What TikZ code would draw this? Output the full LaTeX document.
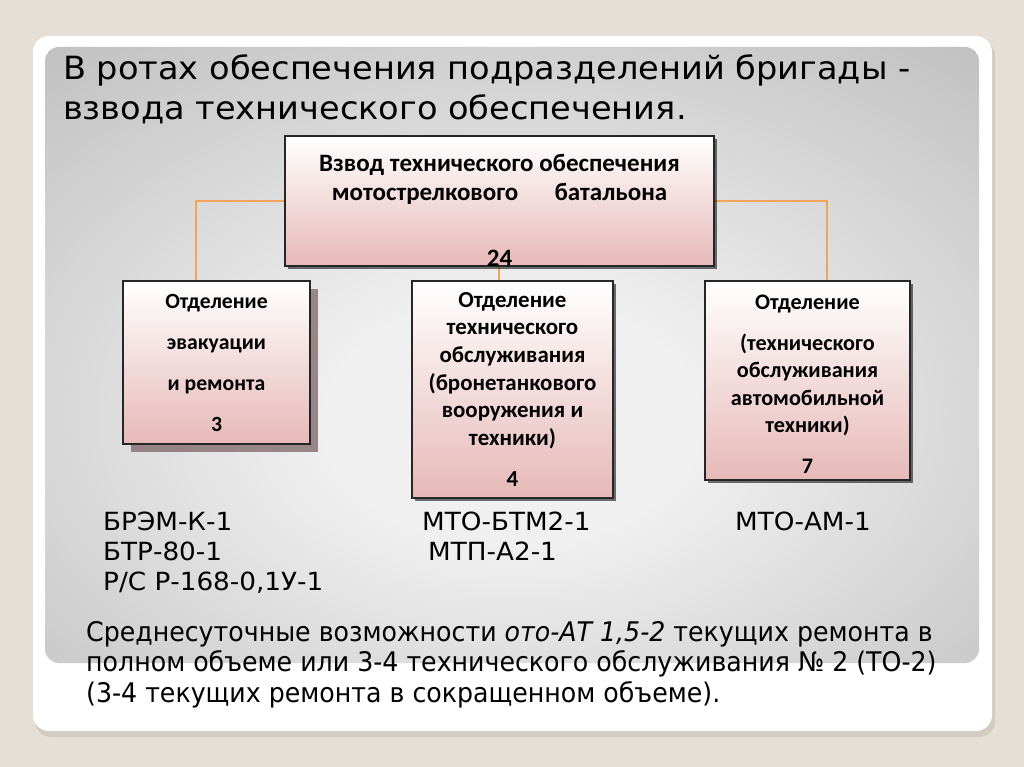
\documentclass[tikz,border=0pt]{standalone}
\usepackage{fontspec}
\setmainfont{DejaVu Sans}
\newfontfamily\titlefont{DejaVu Sans}[FakeStretch=1.05]
\newfontfamily\listfont{DejaVu Sans}[FakeStretch=1.05]
\newfontfamily\boxfont{Carlito}
\newfontfamily\condfont{DejaVu Sans}[FakeStretch=0.935]
\usetikzlibrary{shadows}
\pgfdeclarelayer{backdrop}
\pgfdeclarelayer{links}
\pgfsetlayers{backdrop,links,main}
\definecolor{bgbeige}{HTML}{E5DFD5}
\definecolor{frameshadow}{HTML}{D2CBBF}
\definecolor{panelin}{HTML}{F0F0F0}
\definecolor{panelout}{HTML}{9C9C9C}
\definecolor{pinkbot}{HTML}{E6B9B8}
\definecolor{boxline}{HTML}{262626}
\definecolor{conn}{HTML}{F2A55A}
\definecolor{mauveshadow}{HTML}{7E6466}
\pgfdeclareradialshading{panelshade}{\pgfpoint{0bp}{-6bp}}{color(0bp)=(panelin); color(10bp)=(panelin); color(60bp)=(panelout); color(100bp)=(panelout)}
\tikzset{
  orgbox/.style={draw=boxline, line width=1.3pt, top color=white, bottom color=pinkbot,
    inner sep=0pt, align=center, font=\boxfont\bfseries},
  smallshadow/.style={drop shadow={shadow xshift=3pt, shadow yshift=-3pt, fill=black, opacity=.55}},
  bigshadow/.style={drop shadow={shadow xshift=8pt, shadow yshift=-8pt, fill=mauveshadow, opacity=.75}},
  link/.style={draw=conn, line width=1.2pt},
  titletext/.style={anchor=base west, inner sep=0pt, font=\titlefont\fontsize{32}{40}\selectfont},
  listtext/.style={anchor=base west, inner sep=0pt, font=\listfont\fontsize{25}{30}\selectfont},
  notetext/.style={anchor=base west, inner sep=0pt, font=\condfont\fontsize{27}{31}\selectfont},
}
\begin{document}
\begin{tikzpicture}[x=1pt,y=-1pt]
\useasboundingbox (0,0) rectangle (1024,767);
\begin{pgfonlayer}{backdrop}
\fill[bgbeige] (0,0) rectangle (1024,767);
\fill[frameshadow, rounded corners=16pt] (35,40) rectangle (995,737);
\fill[white, rounded corners=16pt] (33,36) rectangle (992,731);
\shade[shading=panelshade, rounded corners=14pt] (45,47) rectangle (979,663);
\end{pgfonlayer}

\node[titletext] (title1) at (63,80) {В ротах обеспечения подразделений бригады -};
\node[titletext] (title2) at (63,120) {взвода технического обеспечения.};

% boxes
\node[orgbox, smallshadow, minimum width=429pt, minimum height=122pt,
  font=\boxfont\bfseries\fontsize{25}{29}\selectfont] (top) at (499.5,201)
  {\rule{0pt}{35pt}Взвод технического обеспечения\\мотострелкового\quad\ \ батальона\\[37pt]24};
\node[orgbox, bigshadow, minimum width=187pt, minimum height=163pt,
  font=\boxfont\bfseries\fontsize{21.7}{27}\selectfont] (left) at (216.5,362.5)
  {Отделение\\[14pt]эвакуации\\[14pt]и ремонта\\[14pt]3};
\node[orgbox, smallshadow, minimum width=201pt, minimum height=217pt,
  font=\boxfont\bfseries\fontsize{22.9}{27.6}\selectfont] (mid) at (512.5,389.5)
  {Отделение\\технического\\обслуживания\\(бронетанкового\\вооружения и\\техники)\\[14pt]4};
\node[orgbox, smallshadow, minimum width=205pt, minimum height=199pt,
  font=\boxfont\bfseries\fontsize{22.2}{27.3}\selectfont] (right) at (807.5,380.5)
  {\rule{0pt}{22pt}Отделение\\[14pt](технического\\обслуживания\\автомобильной\\техники)\\[14pt]7};

% connectors, kept behind the boxes
\begin{pgfonlayer}{links}
\draw[link] (top.west) -| ([xshift=-20.5pt]left.north);
\draw[link] (top.east) -| ([xshift=19.5pt]right.north);
\draw[link] ([xshift=-0.5pt]top.south) -- ([xshift=-13.5pt]mid.north);
\end{pgfonlayer}

% equipment lists
\node[listtext] (l1) at (103,530) {БРЭМ-К-1};
\node[listtext] (l2) at (103,560) {БТР-80-1};
\node[listtext] (l3) at (103,590) {Р/С Р-168-0,1У-1};
\node[listtext] (m1) at (422,530) {МТО-БТМ2-1};
\node[listtext] (m2) at (428,560) {МТП-А2-1};
\node[listtext] (r1) at (735,530) {МТО-АМ-1};

% note
\node[notetext] (n1) at (86,641) {Среднесуточные возможности \textit{ото-АТ 1,5-2} текущих ремонта в};
\node[notetext] (n2) at (86,671) {полном объеме или 3-4 технического обслуживания №~2 (ТО-2)};
\node[notetext] (n3) at (86,702) {(3-4 текущих ремонта в сокращенном объеме).};
\end{tikzpicture}
\end{document}
